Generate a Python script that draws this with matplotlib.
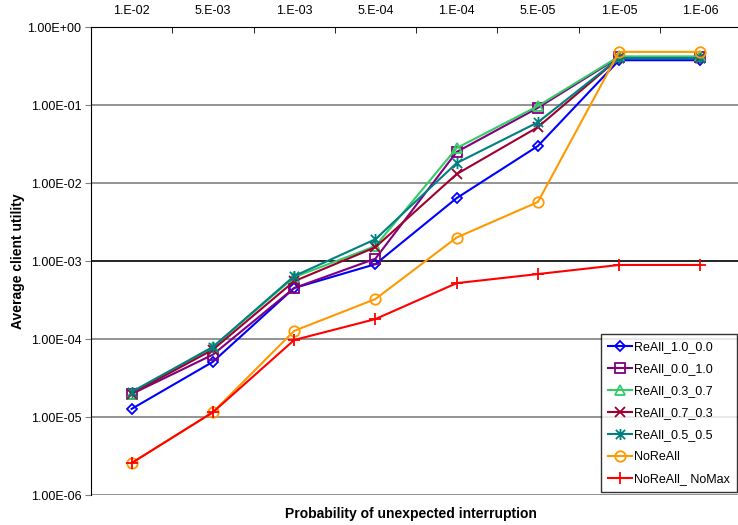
import matplotlib.pyplot as plt
from matplotlib.path import Path
import numpy as np

plt.rcParams['font.family'] = ['Liberation Sans', 'DejaVu Sans']

categories = ['1.E-02', '5.E-03', '1.E-03', '5.E-04', '1.E-04', '5.E-05', '1.E-05', '1.E-06']

reall_10_00 = [1.27e-5, 5.1e-5, 4.5e-4, 9.1e-4, 6.4e-3, 2.98e-2, 0.375, 0.375]
reall_00_10 = [1.97e-5, 6.3e-5, 4.5e-4, 1.07e-3, 2.5e-2, 0.092, 0.41, 0.41]
reall_03_07 = [2.0e-5, 7.9e-5, 6.2e-4, 1.55e-3, 2.8e-2, 0.097, 0.42, 0.42]
reall_07_03 = [2.0e-5, 7.3e-5, 5.5e-4, 1.5e-3, 1.3e-2, 5.2e-2, 0.40, 0.40]
reall_05_05 = [2.1e-5, 7.9e-5, 6.4e-4, 1.9e-3, 1.8e-2, 0.06, 0.40, 0.40]
noreall = [2.57e-6, 1.15e-5, 1.27e-4, 3.25e-4, 2.0e-3, 5.7e-3, 0.48, 0.48]
noreall_nomax = [2.57e-6, 1.15e-5, 9.7e-5, 1.8e-4, 5.2e-4, 6.8e-4, 8.9e-4, 8.9e-4]

# excel style asterisk: x plus a vertical bar
star = Path([(-1, -1), (1, 1), (-1, 1), (1, -1), (0, -1.2), (0, 1.2)],
            [Path.MOVETO, Path.LINETO, Path.MOVETO, Path.LINETO, Path.MOVETO, Path.LINETO])

series = [
    ('ReAll_1.0_0.0', reall_10_00, '#0000FF', 'D', 5.5),
    ('ReAll_0.0_1.0', reall_00_10, '#800080', 's', 7),
    ('ReAll_0.3_0.7', reall_03_07, '#33CC66', '^', 7),
    ('ReAll_0.7_0.3', reall_07_03, '#A0002E', 'x', 7),
    ('ReAll_0.5_0.5', reall_05_05, '#008080', star, 8),
    ('NoReAll', noreall, '#FF9900', 'o', 7.5),
    ('NoReAll_ NoMax', noreall_nomax, '#FF0000', '+', 9),
]

fig = plt.figure(figsize=(7.38, 5.25), dpi=100)
ax = fig.add_axes([91 / 738, 30 / 525, 650 / 738, 468 / 525])

x = np.arange(len(categories))
for name, vals, col, mk, ms in series:
    ax.plot(x, vals, color=col, marker=mk, markersize=ms, markerfacecolor='none',
            markeredgecolor=col, markeredgewidth=1.3, linewidth=1.5, label=name)

ax.set_yscale('log')
ax.set_ylim(1e-6, 1)
ax.set_xlim(-0.5, len(categories) - 0.5)

decades = [1e-6, 1e-5, 1e-4, 1e-3, 1e-2, 1e-1, 1]
ax.set_yticks(decades)
ax.set_yticklabels(['%.2E' % d for d in decades])
ax.minorticks_off()
for d in decades[:-1]:
    c = 'black' if d == 1e-3 else '#808080'
    ax.axhline(d, color=c, linewidth=1.2, zorder=0)

ax.xaxis.tick_top()
ax.set_xticks(x)
ax.set_xticklabels(categories)
ax.tick_params(axis='x', length=0, labelsize=9, pad=7)
ax.set_xticks(np.arange(len(categories)) - 0.5, minor=True)
ax.tick_params(axis='x', which='minor', top=True, direction='in', length=4)
ax.tick_params(axis='y', labelsize=9, length=4, color='#808080', pad=3)

ax.spines['right'].set_visible(False)
ax.spines['bottom'].set_visible(False)

ax.set_ylabel('Average client utility', fontsize=10, fontweight='bold')
ax.yaxis.set_label_coords(-0.1015, 0.5)
fig.text(0.557, 0.013, 'Probability of unexpected interruption', ha='center',
         fontsize=10, fontweight='bold')

leg = ax.legend(loc='lower right', bbox_to_anchor=(737 / 738, 33 / 525),
                bbox_transform=fig.transFigure, fontsize=9, frameon=True,
                fancybox=False, edgecolor='black', handlelength=1.9,
                borderpad=0.55, labelspacing=0.8, handletextpad=0.2,
                borderaxespad=0)
leg.get_frame().set_linewidth(1.0)

fig.savefig('out.png', dpi=100)
